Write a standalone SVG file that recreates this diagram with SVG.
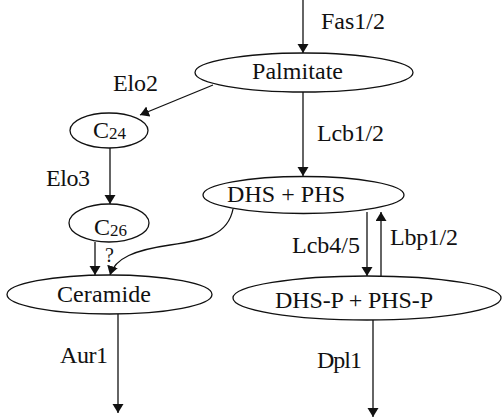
<svg xmlns="http://www.w3.org/2000/svg" width="502" height="418" viewBox="0 0 502 418" font-family="'Liberation Serif', 'Times New Roman', serif">
<style>
.n{fill:#fff;stroke:#111;stroke-width:1.3}
.e{fill:none;stroke:#111;stroke-width:1.3;marker-end:url(#ah)}
text{font-family:'Liberation Serif','Times New Roman',serif;font-size:24px;fill:#111}
.sub{font-size:17px}
</style>
<defs>
<marker id="ah" markerUnits="userSpaceOnUse" markerWidth="12" markerHeight="12" refX="9" refY="5.5" orient="auto">
<path d="M0,0 L9,5.5 L0,11 z" fill="#111"/>
</marker>
</defs>
<rect width="502" height="418" fill="#fff"/>
<g id="connectors">
<line class="e" x1="303" y1="0" x2="303" y2="53"/>
<line class="e" x1="303" y1="92" x2="303" y2="176"/>
<line class="e" x1="213" y1="85" x2="140" y2="115"/>
<line class="e" x1="110" y1="148" x2="110" y2="204"/>
<line class="e" x1="95" y1="242" x2="95" y2="275"/>
<path class="e" d="M233,209 C228,235 205,240 170,245 C135,250 115,258 110,275"/>
<line class="e" x1="367" y1="212" x2="367" y2="276"/>
<line class="e" x1="381" y1="276" x2="381" y2="212"/>
<line class="e" x1="118" y1="314" x2="118" y2="413"/>
<line class="e" x1="373" y1="320" x2="373" y2="417"/>
<text x="321" y="29" textLength="64">Fas1/2</text>
<text x="317" y="141" textLength="67">Lcb1/2</text>
<text x="113" y="91" textLength="45">Elo2</text>
<text x="46" y="186" textLength="44">Elo3</text>
<text x="105" y="262" style="font-size:20px">?</text>
<text x="292" y="253" textLength="68">Lcb4/5</text>
<text x="390" y="245" textLength="68">Lbp1/2</text>
<text x="60" y="363" textLength="48">Aur1</text>
<text x="317" y="368" textLength="45">Dpl1</text>
</g>
<g id="palmitate">
<ellipse class="n" cx="304" cy="72.5" rx="109" ry="19.5"/>
<text x="252" y="79" textLength="91">Palmitate</text>
</g>
<g id="c24">
<ellipse class="n" cx="109" cy="130.5" rx="39" ry="17.5"/>
<text x="93" y="138">C<tspan class="sub" dy="1">24</tspan></text>
</g>
<g id="c26">
<ellipse class="n" cx="109" cy="223" rx="40" ry="19"/>
<text x="94" y="235">C<tspan class="sub" dy="1">26</tspan></text>
</g>
<g id="dhs-phs">
<ellipse class="n" cx="303.5" cy="195" rx="100.5" ry="18.5"/>
<text x="227" y="202" textLength="118">DHS + PHS</text>
</g>
<g id="ceramide">
<ellipse class="n" cx="109.5" cy="294.5" rx="102.5" ry="19.5"/>
<text x="57" y="302" textLength="94">Ceramide</text>
</g>
<g id="dhsp-phsp">
<ellipse class="n" cx="367" cy="298" rx="134" ry="22"/>
<text x="275" y="308" textLength="158">DHS-P + PHS-P</text>
</g>
</svg>
